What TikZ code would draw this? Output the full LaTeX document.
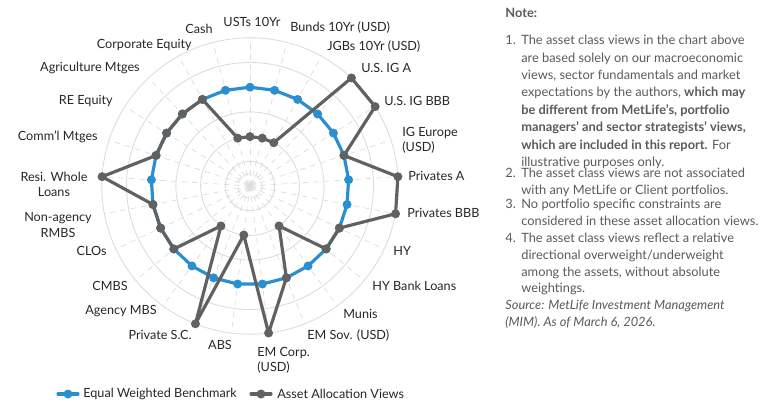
\documentclass[tikz,border=0pt]{standalone}
\usepackage{fontspec}
\setmainfont{Lato}
\usetikzlibrary{calc}
\definecolor{mimblue}{HTML}{2A8FD0}
\definecolor{mimgray}{HTML}{616161}
\definecolor{gridgray}{HTML}{DCDCDC}
\definecolor{notegray}{HTML}{5A5A5A}
\begin{document}
\begin{tikzpicture}[x=0.02cm,y=-0.02cm,line cap=round,line join=round,
  grid/.style={gridgray,line width=0.5pt},
  spoke/.style={gridgray,dashed,line width=0.4pt},
  bench/.style={mimblue,line width=1.8pt},
  views/.style={mimgray,line width=1.8pt},
  lbl/.style={font=\fontsize{7.2}{8.6}\selectfont,text=black!85,inner sep=0pt},
  note/.style={font=\fontsize{7.3}{9.5}\selectfont,text=notegray,inner sep=0pt,align=left,anchor=north west}]
\useasboundingbox (0,0) rectangle (782,419);
\def\runit{24.7}
\coordinate (o) at (250,186);
% grid
\foreach \r in {0.25,0.5}
  \draw[spoke] (o) circle ({\r*\runit});
\foreach \r in {1,...,6}
  \draw[grid] (o) circle ({\r*\runit});
\foreach \i in {0,...,24}
  \draw[spoke] (o) -- ++({-90+\i*14.4}:{6*\runit});
\fill[gridgray] (o) circle (2.5);
% benchmark
\foreach \i in {0,...,24}
  \coordinate (b\i) at ($(o)+({-90+\i*14.4}:{4*\runit})$);
\draw[bench] (b0) \foreach \i in {1,...,24} { -- (b\i) } -- cycle;
\foreach \i in {0,...,24}
  \fill[mimblue] (b\i) circle (4.5);
% views
\foreach \v [count=\i from 0] in {2,2,2,6,6,4,6,6,4,4,2,4,6,2,6,2,4,4,4,6,4,4,4,4,2}
  \coordinate (v\i) at ($(o)+({-90+\i*14.4}:{\v*\runit})$);
\draw[views] (v0) \foreach \i in {1,...,24} { -- (v\i) } -- cycle;
\foreach \i in {0,...,24}
  \fill[mimgray] (v\i) circle (4.5);
% axis labels
\node[lbl] (ust) at (252,22) {USTs 10Yr};
\node[lbl,anchor=west] (bunds) at (290,28) {Bunds 10Yr (USD)};
\node[lbl,anchor=west] (jgb) at (327,47) {JGBs 10Yr (USD)};
\node[lbl,anchor=west] (iga) at (361,68) {U.S. IG A};
\node[lbl,anchor=west] (igbbb) at (384,101) {U.S. IG BBB};
\node[lbl,anchor=west,align=left] (igeur) at (402,140) {IG Europe\\(USD)};
\node[lbl,anchor=west] (prva) at (408,176) {Privates A};
\node[lbl,anchor=west] (prvbbb) at (407,213) {Privates BBB};
\node[lbl,anchor=west] (hy) at (393,251) {HY};
\node[lbl,anchor=west] (hybl) at (372,286) {HY Bank Loans};
\node[lbl,anchor=west] (munis) at (343,314) {Munis};
\node[lbl,anchor=west] (emsov) at (307,336) {EM Sov. (USD)};
\node[lbl,anchor=west,align=left] (emcorp) at (257,360) {EM Corp.\\(USD)};
\node[lbl] (abs) at (220,345) {ABS};
\node[lbl,anchor=east] (psc) at (192,335) {Private S.C.};
\node[lbl,anchor=east] (agmbs) at (157,311) {Agency MBS};
\node[lbl,anchor=east] (cmbs) at (128,286) {CMBS};
\node[lbl,anchor=east] (clos) at (107,251) {CLOs};
\node[lbl,align=center] (rmbs) at (58,225) {Non-agency\\RMBS};
\node[lbl,align=center] (resi) at (54,184) {Resi. Whole\\Loans};
\node[lbl,anchor=east] (comm) at (98,137) {Comm'l Mtges};
\node[lbl,anchor=east] (reeq) at (113,101) {RE Equity};
\node[lbl,anchor=east] (agri) at (140,68) {Agriculture Mtges};
\node[lbl,anchor=east] (corpeq) at (192,45) {Corporate Equity};
\node[lbl,anchor=east] (cash) at (213,29) {Cash};
% legend
\draw[bench] (58,394) -- (78,394);
\fill[mimblue] (68,394) circle (4.5);
\node[lbl,anchor=west] (lgbench) at (83,394) {Equal Weighted Benchmark};
\draw[views] (251,394) -- (271,394);
\fill[mimgray] (261,394) circle (4.5);
\node[lbl,anchor=west] (lgviews) at (277,394) {Asset Allocation Views};
% notes
\node[note] (nhead) at (505,8) {\bfseries Note:};
\node[note] (n1) at (505,35) {1.};
\node[note] (t1) at (521,35) {The asset class views in the chart above\\[0.4pt]are based solely on our macroeconomic\\[0.4pt]views, sector fundamentals and market\\[0.4pt]expectations by the authors, \textbf{which may}\\[0.4pt]\textbf{be different from MetLife's, portfolio}\\[0.4pt]\textbf{managers' and sector strategists' views,}\\[0.4pt]\textbf{which are included in this report.} For\\[0.4pt]illustrative purposes only.};
\node[note] (n2) at (505,168) {2.};
\node[note] (t2) at (521,168) {The asset class views are not associated\\with any MetLife or Client portfolios.};
\node[note] (n3) at (505,199) {3.};
\node[note] (t3) at (521,199) {No portfolio specific constraints are\\considered in these asset allocation views.};
\node[note] (n4) at (505,233) {4.};
\node[note] (t4) at (521,233) {The asset class views reflect a relative\\directional overweight/underweight\\among the assets, without absolute\\weightings.};
\node[note] (src) at (505,300) {\itshape Source: MetLife Investment Management\\\itshape (MIM). As of March 6, 2026.};
\end{tikzpicture}
\end{document}
